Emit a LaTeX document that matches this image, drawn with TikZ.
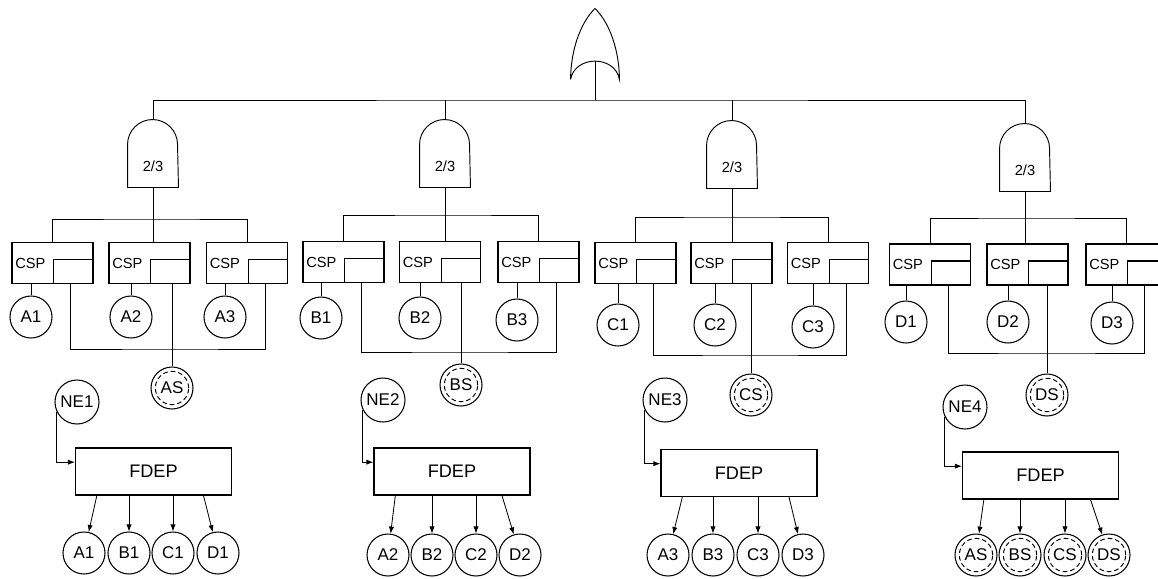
\documentclass[tikz,border=0pt]{standalone}
\usepackage{fontspec}
\setmainfont{Liberation Sans}
\usetikzlibrary{arrows.meta}

\begin{document}
\begin{tikzpicture}[
  x=0.03cm, y=-0.03cm,
  line width=0.8pt,
  orshape/.style={minimum width=1.44cm, minimum height=2.1cm, inner sep=0pt},
  votegate/.style={minimum width=1.5cm, minimum height=1.26cm, inner sep=0pt, font=\fontsize{12.5}{14}\selectfont},
  cspbox/.style={draw, line width=1pt, minimum height=1.23cm, text width=2.23cm, inner xsep=0.1cm, inner ysep=0pt, align=left, font=\fontsize{12.5}{14}\selectfont,
    path picture={\draw[line width=1pt] ([xshift=1pt]path picture bounding box.south) |- ([yshift=3pt]path picture bounding box.east);}},
  basic/.style={draw, circle, line width=0.9pt, minimum size=1.26cm, inner sep=0pt, font=\fontsize{14.5}{16}\selectfont},
  spare/.style={basic, path picture={\draw[line width=0.8pt, dash pattern=on 4pt off 2.5pt] (path picture bounding box.center) circle[radius=0.5cm];}},
  trigger/.style={basic, minimum size=1.32cm, font=\fontsize{14.5}{16}\selectfont},
  fdepbox/.style={draw, line width=1pt, minimum width=4.68cm, minimum height=1.41cm, font=\fontsize{15.5}{17}\selectfont},
  arrow/.style={-{Latex[length=6pt,width=4.5pt]}, line width=0.7pt}
]
\useasboundingbox (0,0) rectangle (1158,578);

\node[orshape] (topgate) at (595,44) {};
\draw (topgate.south west) .. controls (571,45) and (583,20) .. (topgate.north) .. controls (607,20) and (619,45) .. (topgate.south east) .. controls (615,55) and (575,55) .. (topgate.south west);
\coordinate (bus) at (595,100);
\draw ([yshift=0.54cm]topgate.south) -- (bus);

\node[votegate] (gatea) at (153,166) {2/3};
\node[votegate] (gateb) at (445,166) {2/3};
\node[votegate] (gatec) at (732,167) {2/3};
\node[votegate] (gated) at (1025,170) {2/3};
\draw (gatea.south west) -- (gatea.north west) arc[start angle=180, end angle=0, radius=0.75cm] -- (gatea.south east) -- cycle;
\draw (gateb.south west) -- (gateb.north west) arc[start angle=180, end angle=0, radius=0.75cm] -- (gateb.south east) -- cycle;
\draw (gatec.south west) -- (gatec.north west) arc[start angle=180, end angle=0, radius=0.75cm] -- (gatec.south east) -- cycle;
\draw (gated.south west) -- (gated.north west) arc[start angle=180, end angle=0, radius=0.75cm] -- (gated.south east) -- cycle;
\draw ([yshift=0.75cm]gatea.north) |- (bus) -| ([yshift=0.75cm]gated.north);
\draw ([yshift=0.75cm]gateb.north) -- (gateb.north |- bus);
\draw ([yshift=0.75cm]gatec.north) -- (gatec.north |- bus);

\node[cspbox] (cspa1) at (52.5,263) {CSP};
\node[cspbox] (cspa2) at (149.5,263) {CSP};
\node[cspbox] (cspa3) at (247,263) {CSP};
\coordinate (abar) at (153,219);
\draw (gatea.south) -- (gatea.south |- cspa2.north);
\draw (cspa1.north) |- (abar) -| (cspa3.north);
\node[basic] (a1) at (31,317) {A1};
\node[basic] (a2) at (131,317) {A2};
\node[basic] (a3) at (225,317) {A3};
\draw (a1.north) -- (a1.north |- cspa1.south);
\draw (a2.north) -- (a2.north |- cspa2.south);
\draw (a3.north) -- (a3.north |- cspa3.south);
\node[spare] (sparea) at (172,388) {AS};
\coordinate (ajoin) at (172,349);
\draw ([xshift=0.55cm]cspa1.south) |- (ajoin) -| ([xshift=0.55cm]cspa3.south);
\draw (cspa2.south -| sparea) -- (sparea.north);

\node[trigger] (nea) at (77,402) {NE1};
\node[fdepbox] (fdepa) at (153.5,471.5) {FDEP};
\draw[arrow] (nea.205) |- ([yshift=0.28cm]fdepa.west);
\node[basic] (fa1) at (84,553) {A1};
\node[basic] (fb1) at (129,553) {B1};
\node[basic] (fc1) at (173,553) {C1};
\node[basic] (fd1) at (218,553) {D1};
\draw[arrow] ([xshift=-1.7cm]fdepa.south) -- (fa1);
\draw[arrow] (fb1 |- fdepa.south) -- (fb1);
\draw[arrow] (fc1 |- fdepa.south) -- (fc1);
\draw[arrow] ([xshift=1.5cm]fdepa.south) -- (fd1);

\node[cspbox] (cspb1) at (343.5,262) {CSP};
\node[cspbox] (cspb2) at (440,262) {CSP};
\node[cspbox] (cspb3) at (538.5,262) {CSP};
\coordinate (bbar) at (445,215);
\draw (gateb.south) -- (gateb.south |- cspb2.north);
\draw (cspb1.north) |- (bbar) -| (cspb3.north);
\node[basic] (b1) at (321,318) {B1};
\node[basic] (b2) at (420,318) {B2};
\node[basic] (b3) at (517,320) {B3};
\draw (b1.north) -- (b1.north |- cspb1.south);
\draw (b2.north) -- (b2.north |- cspb2.south);
\draw (b3.north) -- (b3.north |- cspb3.south);
\node[spare] (spareb) at (461,385) {BS};
\coordinate (bjoin) at (461,352);
\draw ([xshift=0.55cm]cspb1.south) |- (bjoin) -| ([xshift=0.55cm]cspb3.south);
\draw (cspb2.south -| spareb) -- (spareb.north);

\node[trigger] (neb) at (383,400) {NE2};
\node[fdepbox] (fdepb) at (452,471.5) {FDEP};
\draw[arrow] (neb.205) |- ([yshift=0.28cm]fdepb.west);
\node[basic] (fa2) at (388,555) {A2};
\node[basic] (fb2) at (432,555) {B2};
\node[basic] (fc2) at (476,555) {C2};
\node[basic] (fd2) at (520,555) {D2};
\draw[arrow] ([xshift=-1.7cm]fdepb.south) -- (fa2);
\draw[arrow] (fb2 |- fdepb.south) -- (fb2);
\draw[arrow] (fc2 |- fdepb.south) -- (fc2);
\draw[arrow] ([xshift=1.5cm]fdepb.south) -- (fd2);

\node[cspbox] (cspc1) at (635.5,263) {CSP};
\node[cspbox] (cspc2) at (731.5,263) {CSP};
\node[cspbox] (cspc3) at (828,263) {CSP};
\coordinate (cbar) at (732,217);
\draw (gatec.south) -- (gatec.south |- cspc2.north);
\draw (cspc1.north) |- (cbar) -| (cspc3.north);
\node[basic] (c1) at (618,325) {C1};
\node[basic] (c2) at (715,325) {C2};
\node[basic] (c3) at (813,327) {C3};
\draw (c1.north) -- (c1.north |- cspc1.south);
\draw (c2.north) -- (c2.north |- cspc2.south);
\draw (c3.north) -- (c3.north |- cspc3.south);
\node[spare] (sparec) at (751,395) {CS};
\coordinate (cjoin) at (751,355);
\draw ([xshift=0.55cm]cspc1.south) |- (cjoin) -| ([xshift=0.55cm]cspc3.south);
\draw (cspc2.south -| sparec) -- (sparec.north);

\node[trigger] (nec) at (665,400) {NE3};
\node[fdepbox] (fdepc) at (739,473) {FDEP};
\draw[arrow] (nec.205) |- ([yshift=0.28cm]fdepc.west);
\node[basic] (fa3) at (668,555) {A3};
\node[basic] (fb3) at (713,555) {B3};
\node[basic] (fc3) at (758,555) {C3};
\node[basic] (fd3) at (803,555) {D3};
\draw[arrow] ([xshift=-1.7cm]fdepc.south) -- (fa3);
\draw[arrow] (fb3 |- fdepc.south) -- (fb3);
\draw[arrow] (fc3 |- fdepc.south) -- (fc3);
\draw[arrow] ([xshift=1.5cm]fdepc.south) -- (fd3);

\node[cspbox] (cspd1) at (930,264.5) {CSP};
\node[cspbox] (cspd2) at (1027.5,264.5) {CSP};
\node[cspbox] (cspd3) at (1126.5,264.5) {CSP};
\coordinate (dbar) at (1025,218);
\draw (gated.south) -- (gated.south |- cspd2.north);
\draw (cspd1.north) |- (dbar) -| (cspd3.north);
\node[basic] (d1) at (906,322) {D1};
\node[basic] (d2) at (1008,322) {D2};
\node[basic] (d3) at (1112,323) {D3};
\draw (d1.north) -- (d1.north |- cspd1.south);
\draw (d2.north) -- (d2.north |- cspd2.south);
\draw (d3.north) -- (d3.north |- cspd3.south);
\node[spare] (spared) at (1047,395) {DS};
\coordinate (djoin) at (1047,353);
\draw ([xshift=0.55cm]cspd1.south) |- (djoin) -| ([xshift=0.55cm]cspd3.south);
\draw (cspd2.south -| spared) -- (spared.north);

\node[trigger] (ned) at (965,407) {NE4};
\node[fdepbox] (fdepd) at (1040.5,475.5) {FDEP};
\draw[arrow] (ned.205) |- ([yshift=0.28cm]fdepd.west);
\node[spare] (fas) at (976,555) {AS};
\node[spare] (fbs) at (1020,555) {BS};
\node[spare] (fcs) at (1065,555) {CS};
\node[spare] (fds) at (1109,555) {DS};
\draw[arrow] ([xshift=-1.7cm]fdepd.south) -- (fas);
\draw[arrow] (fbs |- fdepd.south) -- (fbs);
\draw[arrow] (fcs |- fdepd.south) -- (fcs);
\draw[arrow] ([xshift=1.5cm]fdepd.south) -- (fds);
\end{tikzpicture}
\end{document}
